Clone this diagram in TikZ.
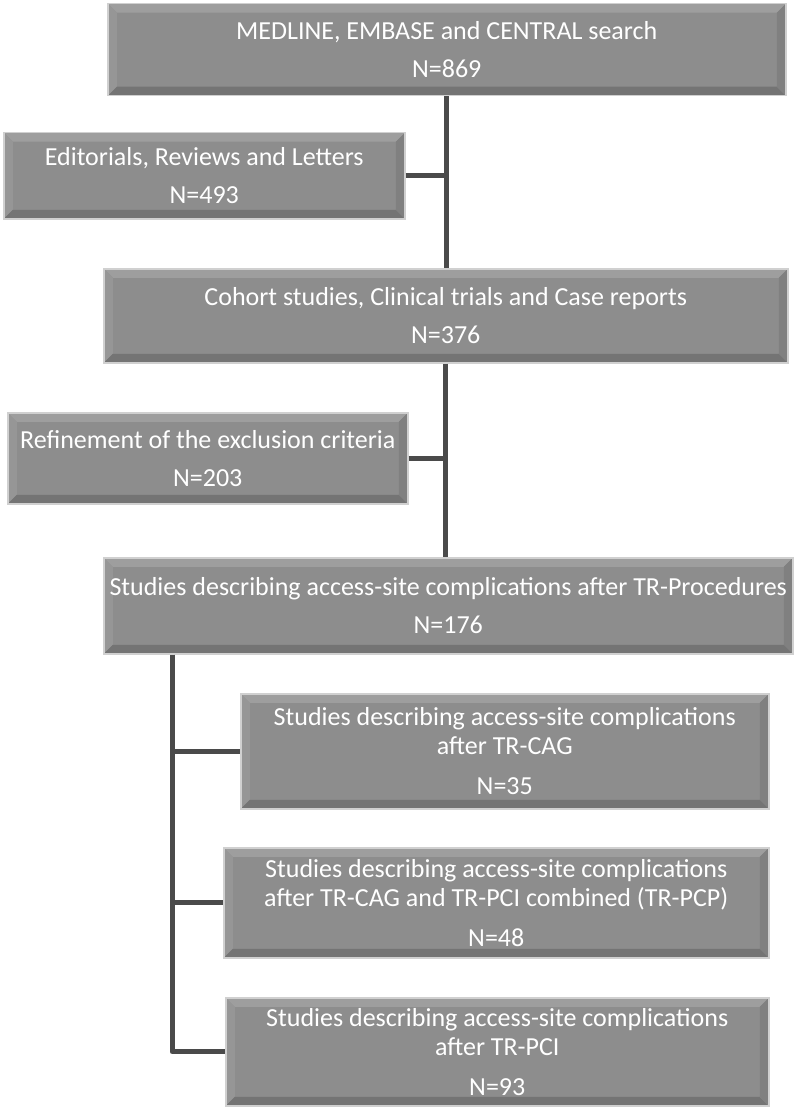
\documentclass[tikz,border=0pt]{standalone}
\usepackage{fontspec}
\setmainfont{Carlito}
\usetikzlibrary{calc}

\definecolor{boxgray}{RGB}{141,141,141}
\definecolor{boxtop}{RGB}{158,158,158}
\definecolor{boxleft}{RGB}{150,150,150}
\definecolor{boxright}{RGB}{128,128,128}
\definecolor{boxbottom}{RGB}{116,116,116}
\definecolor{boxedge}{RGB}{208,208,208}
\definecolor{linegray}{RGB}{74,74,74}

\tikzset{
  flowbox/.style={draw=boxedge, line width=1.5pt, fill=boxgray, text=white,
    align=center, anchor=north west, inner sep=0pt,
    font=\fontsize{26}{29}\selectfont,
    path picture={
      \path (path picture bounding box.north west) coordinate (bx-nw)
            (path picture bounding box.south east) coordinate (bx-se);
      % bevelled edges
      \fill[boxtop] (bx-nw) -- (bx-nw -| bx-se) -- ($(bx-nw -| bx-se)+(-9pt,-9pt)$)
        -- ($(bx-nw)+(9pt,-9pt)$) -- cycle;
      \fill[boxleft] (bx-nw) -- ($(bx-nw)+(9pt,-9pt)$) -- ($(bx-se -| bx-nw)+(9pt,9pt)$)
        -- (bx-se -| bx-nw) -- cycle;
      \fill[boxbottom] (bx-se -| bx-nw) -- (bx-se) -- ($(bx-se)+(-9pt,9pt)$)
        -- ($(bx-se -| bx-nw)+(9pt,9pt)$) -- cycle;
      \fill[boxright] (bx-se) -- (bx-nw -| bx-se) -- ($(bx-nw -| bx-se)+(-9pt,-9pt)$)
        -- ($(bx-se)+(-9pt,9pt)$) -- cycle;
    }},
  link/.style={draw=linegray, line width=5pt}
}

\begin{document}
\begin{tikzpicture}[x=1pt, y=-1pt]
	\useasboundingbox (0,0) rectangle (793,1110);

	% main column
	\node[flowbox, minimum width=678pt, minimum height=92pt] (search) at (107,3)
		{MEDLINE, EMBASE and CENTRAL search\\[9pt]N=869};
	\node[flowbox, minimum width=401pt, minimum height=86pt] (excl) at (3,132)
		{Editorials, Reviews and Letters\\[9pt]N=493};
	\node[flowbox, minimum width=684pt, minimum height=94pt] (cohort) at (103,268)
		{Cohort studies, Clinical trials and Case reports\\[9pt]N=376};
	\node[flowbox, minimum width=400pt, minimum height=91pt] (refine) at (7,412)
		{Refinement of the exclusion criteria\\[9pt]N=203};
	\node[flowbox, minimum width=689pt, minimum height=96pt] (trproc) at (103,557)
		{Studies describing access-site complications after TR-Procedures\\[9pt]N=176};

	% sub groups
	\node[flowbox, minimum width=528pt, minimum height=115pt] (trcag) at (240,693)
		{Studies describing access-site complications\\after TR-CAG\\[11pt]N=35};
	\node[flowbox, minimum width=545pt, minimum height=110pt] (trpcp) at (223,847)
		{Studies describing access-site complications\\after TR-CAG and TR-PCI combined (TR-PCP)\\[11pt]N=48};
	\node[flowbox, minimum width=543pt, minimum height=108pt] (trpci) at (225,997)
		{Studies describing access-site complications\\after TR-PCI\\[11pt]N=93};

	\draw[link] (search.south) -- (search.south |- cohort.north);
	\draw[link] (excl.east) -- (excl.east -| search.south);
	\draw[link] (cohort.south) -- (cohort.south |- trproc.north);
	\draw[link] (refine.east) -- (refine.east -| cohort.south);

	\coordinate (spine) at ([xshift=69pt]trproc.south west);
	\draw[link, line join=round] (spine) |- (trpci.west);
	\foreach \grp in {trcag,trpcp}{
		\draw[link] (\grp.west -| spine) -- (\grp.west);
	}
\end{tikzpicture}
\end{document}
